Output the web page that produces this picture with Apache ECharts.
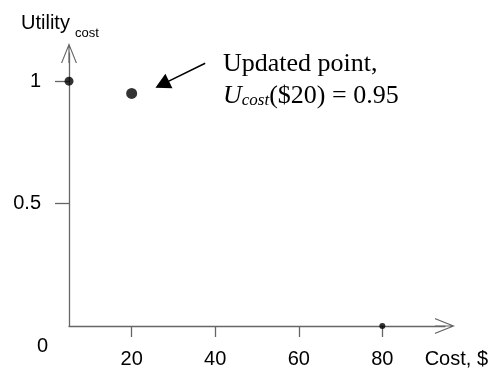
<!DOCTYPE html>
<html>
<head>
<meta charset="utf-8">
<script src="https://cdn.jsdelivr.net/npm/echarts@6/dist/echarts.min.js"></script>
<style>
  html, body { margin: 0; padding: 0; background: #fff; }
  #chart { width: 489px; height: 371px; }
</style>
</head>
<body>
<div id="chart"></div>
<script>
// Utility of cost: the known end points and the updated point at $20
const costs = [5, 20, 80];
const utilities = [1, 0.95, 0];
const xTickValues = [20, 40, 60, 80];
const yTickValues = [0.5, 1];
const originLabel = '0';
const xName = 'Cost, $';
const yName = 'Utility';
const ySub = 'cost';
const noteLine1 = 'Updated point,';
const noteLine2 = ['U', 'cost', '($20) = 0.95'];

// arrow pointing at the updated point, in data coordinates
const arrowFrom = [37.6, 1.073];
const arrowTo = [27.3, 0.987];

const axisColor = '#666';
const sans = '"Liberation Sans", Arial, sans-serif';
const serif = '"Liberation Serif", "Times New Roman", serif';
// open arrow head with a short shaft so the axis line runs to the tip
const openArrow = 'path://M0,20L8,0L16,20L14.8,20L8,3L1.2,20Z M7.4,1L8.6,1L8.6,20L7.4,20Z';
const pointSizes = [9, 11, 6];

const chart = echarts.init(document.getElementById('chart'), null, { renderer: 'canvas' });

chart.setOption({
  animation: false,
  backgroundColor: '#fff',
  grid: { left: 69, right: 44, top: 53, bottom: 45, containLabel: false, outerBoundsMode: 'none' },
  xAxis: {
    type: 'value',
    min: 5,
    max: 95,
    axisLine: {
      show: true, onZero: false,
      symbol: ['none', openArrow], symbolSize: [16, 20],
      lineStyle: { color: axisColor, width: 1.3 }
    },
    axisTick: { show: true, length: 11, customValues: xTickValues, lineStyle: { color: axisColor, width: 1.3 } },
    axisLabel: { customValues: xTickValues, fontSize: 20, fontFamily: sans, color: '#000', margin: 23 },
    splitLine: { show: false },
    name: xName,
    nameLocation: 'end',
    nameGap: 43,
    nameMoveOverlap: false,
    nameTextStyle: { fontSize: 20, fontFamily: sans, color: '#000', align: 'right', verticalAlign: 'top', padding: [23, 0, 0, 0] }
  },
  yAxis: {
    type: 'value',
    min: 0,
    max: 1.115,
    axisLine: {
      show: true, onZero: false,
      symbol: ['none', openArrow], symbolSize: [16, 20],
      lineStyle: { color: axisColor, width: 1.3 }
    },
    axisTick: { show: true, length: 14, customValues: yTickValues, lineStyle: { color: axisColor, width: 1.3 } },
    axisLabel: { customValues: yTickValues, fontSize: 20, fontFamily: sans, color: '#000', margin: 28 },
    splitLine: { show: false }
  },
  series: [{
    type: 'scatter',
    data: costs.map((c, i) => [c, utilities[i]]),
    symbol: 'circle',
    symbolSize: (val, params) => pointSizes[params.dataIndex],
    itemStyle: { color: '#000' },
    clip: false,
    z: 5,
    markLine: {
      silent: true,
      animation: false,
      symbol: ['none', 'triangle'],
      symbolSize: [16, 15],
      lineStyle: { color: '#000', width: 1.5, type: 'solid' },
      itemStyle: { color: '#000' },
      label: { show: false },
      data: [[{ coord: arrowFrom }, { coord: arrowTo }]]
    }
  }],
  graphic: [
    {
      type: 'text', x: 21, y: 23.1,
      style: { text: yName, font: '20px ' + sans, fill: '#000', align: 'left', verticalAlign: 'middle', textAlign: 'left', textVerticalAlign: 'middle' }
    },
    {
      type: 'text', x: 75, y: 33.2,
      style: { text: ySub, font: '13px ' + sans, fill: '#000', align: 'left', verticalAlign: 'middle', textAlign: 'left', textVerticalAlign: 'middle' }
    },
    {
      type: 'text', x: 42.5, y: 346.6,
      style: { text: originLabel, font: '20px ' + sans, fill: '#000', align: 'center', verticalAlign: 'middle', textAlign: 'center', textVerticalAlign: 'middle' }
    },
    {
      type: 'text', x: 223, y: 51,
      style: { text: noteLine1, fontSize: 26, fontFamily: serif, lineHeight: 26, fill: '#000', align: 'left', verticalAlign: 'top', textAlign: 'left', textVerticalAlign: 'top' }
    },
    {
      type: 'text', x: 223, y: 83,
      style: {
        text: '{i|' + noteLine2[0] + '}{s|' + noteLine2[1] + '}{n|' + noteLine2[2] + '}',
        fill: '#000', align: 'left', verticalAlign: 'top', textAlign: 'left', textVerticalAlign: 'top',
        rich: {
          i: { fontSize: 26, fontFamily: serif, fontStyle: 'italic', lineHeight: 26, verticalAlign: 'bottom', fill: '#000' },
          s: { fontSize: 17, fontFamily: serif, fontStyle: 'italic', lineHeight: 12, verticalAlign: 'bottom', fill: '#000' },
          n: { fontSize: 26, fontFamily: serif, lineHeight: 26, verticalAlign: 'bottom', fill: '#000' }
        }
      }
    }
  ]
});
</script>
</body>
</html>
